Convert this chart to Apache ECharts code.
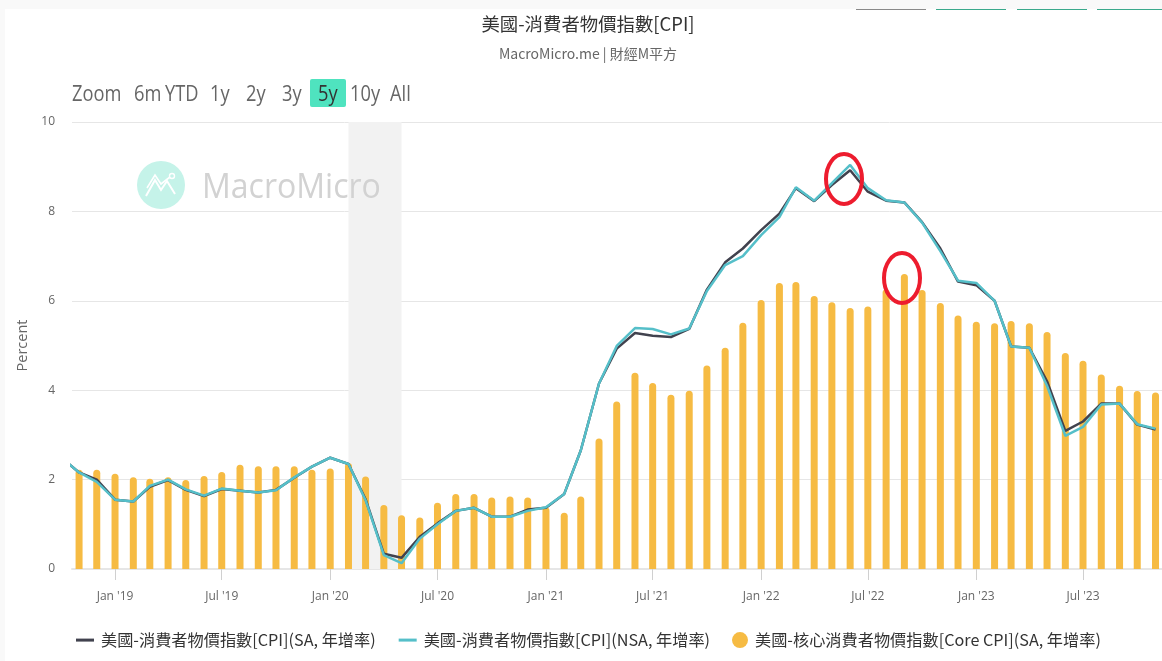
<!DOCTYPE html>
<html><head><meta charset="utf-8">
<style>html,body{margin:0;padding:0;background:#fff}#c{width:1162px;height:661px}</style>
<script src="https://cdn.jsdelivr.net/npm/echarts@6/dist/echarts.min.js"></script>
</head><body><div id="c"></div>
<script>
const startMonth = [2018, 10];
const cpiSA = [2.5,2.16,2.0,1.55,1.51,1.84,1.99,1.77,1.63,1.79,1.75,1.71,1.77,2.04,2.29,2.49,2.35,1.56,0.34,0.25,0.72,1.02,1.3,1.37,1.17,1.17,1.33,1.37,1.68,2.65,4.15,4.93,5.28,5.22,5.19,5.37,6.25,6.86,7.17,7.58,7.95,8.52,8.23,8.59,8.92,8.44,8.24,8.2,7.76,7.17,6.43,6.35,6.0,4.98,4.95,4.2,3.09,3.3,3.7,3.7,3.23,3.12];
const cpiNSA = [2.5,2.16,1.95,1.55,1.51,1.86,2.0,1.78,1.64,1.8,1.75,1.71,1.76,2.05,2.29,2.49,2.35,1.54,0.31,0.13,0.68,1.0,1.3,1.37,1.17,1.17,1.3,1.38,1.68,2.65,4.15,4.99,5.39,5.37,5.25,5.38,6.22,6.8,7.0,7.47,7.87,8.54,8.24,8.63,9.04,8.52,8.25,8.2,7.75,7.11,6.45,6.4,6.0,4.98,4.95,4.1,2.98,3.18,3.68,3.7,3.24,3.14];
const coreCPI = [null,2.22,2.22,2.13,2.05,2.02,2.05,1.99,2.08,2.17,2.33,2.3,2.3,2.3,2.22,2.25,2.37,2.07,1.43,1.2,1.15,1.48,1.68,1.68,1.6,1.62,1.6,1.38,1.26,1.62,2.92,3.75,4.39,4.16,3.9,3.99,4.55,4.95,5.51,6.02,6.4,6.42,6.11,5.97,5.84,5.87,6.26,6.6,6.24,5.95,5.67,5.53,5.5,5.55,5.5,5.3,4.83,4.66,4.35,4.1,3.98,3.95];
const tickDates = ['2019-01-01','2019-07-01','2020-01-01','2020-07-01','2021-01-01','2021-07-01','2022-01-01','2022-07-01','2023-01-01','2023-07-01'];
const tickLabels = ["Jan '19","Jul '19","Jan '20","Jul '20","Jan '21","Jul '21","Jan '22","Jul '22","Jan '23","Jul '23"];
const rangeButtons = [['Zoom',72],['6m',134],['YTD',165],['1y',210],['2y',246],['3y',282],['5y',318],['10y',350],['All',390]];
const recession = ['2020-02-01','2020-05-01'];
const names = ['美國-消費者物價指數[CPI](SA, 年增率)','美國-消費者物價指數[CPI](NSA, 年增率)','美國-核心消費者物價指數[Core CPI](SA, 年增率)'];

const monthDate = i => Date.UTC(startMonth[0], startMonth[1]-1+i, 1);
const zip = a => a.map((v,i)=>[monthDate(i),v]);
const font = '"Noto Sans CJK TC","Open Sans",sans-serif';
const tickTimes = tickDates.map(d=>Date.parse(d+'T00:00:00Z'));
const chart = echarts.init(document.getElementById('c'),null,{renderer:'canvas'});
const legendText = {fontFamily:font,fontSize:16.2,color:'#333',padding:[0,0,0,2]};
chart.setOption({
  animation:false, backgroundColor:'#fff',
  title:{text:'美國-消費者物價指數[CPI]',subtext:'MacroMicro.me | 財經M平方',left:583,textAlign:'center',top:10,itemGap:13,
    textStyle:{fontFamily:font,fontSize:18.4,fontWeight:'normal',color:'#333'},
    subtextStyle:{fontFamily:font,fontSize:14,color:'#666'}},
  legend:[
    {data:[{name:names[0]},{name:names[1]}],left:71,top:627,itemWidth:18,itemHeight:3,itemGap:23,icon:'rect',textStyle:legendText},
    {data:[{name:names[2]}],left:727,top:627,itemWidth:16,itemHeight:16,icon:'circle',textStyle:legendText}
  ],
  grid:{left:72,right:0,top:122,bottom:92},
  xAxis:{type:'value',min:Date.UTC(2018,9,20),max:Date.UTC(2023,10,12),scale:true,
    axisLine:{lineStyle:{color:'#e6e6e6',width:2}},
    axisTick:{show:true,length:11,customValues:tickTimes,lineStyle:{color:'#d0d0d0'}},
    axisLabel:{customValues:tickTimes,margin:22,fontFamily:'"Open Sans",sans-serif',fontSize:12,color:'#666',
      formatter:v=>tickLabels[tickTimes.indexOf(v)]||''},
    splitLine:{show:false}},
  yAxis:{type:'value',min:0,max:10,interval:2,name:'Percent',nameLocation:'middle',nameGap:40,nameRotate:90,
    nameTextStyle:{fontFamily:'"Open Sans",sans-serif',fontSize:14.5,color:'#666'},
    axisLine:{show:false},axisTick:{show:false},
    axisLabel:{margin:17,padding:[3,0,0,0],fontFamily:'"Open Sans",sans-serif',fontSize:12,color:'#666'},
    splitLine:{lineStyle:{color:'#e6e6e6',width:1}}},
  series:[
    {name:names[2],type:'bar',data:zip(coreCPI),barWidth:7,z:2,
      itemStyle:{color:'#f6bb43',borderRadius:[3.5,3.5,0,0]},
      markArea:{silent:true,itemStyle:{color:'#f2f2f2'},z:1,
        data:[[{xAxis:Date.parse(recession[0]+'T00:00:00Z')},{xAxis:Date.parse(recession[1]+'T00:00:00Z')}]]}},
    {name:names[0],type:'line',data:zip(cpiSA),symbol:'none',z:3,lineStyle:{color:'#41424e',width:2.5},itemStyle:{color:'#41424e'}},
    {name:names[1],type:'line',data:zip(cpiNSA),symbol:'none',z:4,lineStyle:{color:'#55bfc9',width:2.5},itemStyle:{color:'#55bfc9'}}
  ],
  graphic:[
    {type:'rect',shape:{x:0,y:0,width:1162,height:9},style:{fill:'#f9f9f9'},silent:true,z:0},
    {type:'rect',shape:{x:0,y:0,width:5,height:661},style:{fill:'#f9f9f9'},silent:true,z:0},
    ...[[856,926,'#8a8a8a'],[936,1006,'#3aa98c'],[1017,1087,'#3aa98c'],[1097,1162,'#3aa98c']].map(a=>(
      {type:'rect',shape:{x:a[0],y:9,width:a[1]-a[0],height:1},style:{fill:a[2]},silent:true,z:5})),
    {type:'circle',shape:{cx:161,cy:185,r:24},style:{fill:'#c5f3e9'},silent:true,z:5},
    {type:'polyline',shape:{points:[[146,196],[155,180],[161,190],[167,181],[175,194]]},style:{stroke:'#fff',fill:null,lineWidth:2},silent:true,z:6},
    {type:'polyline',shape:{points:[[147,188],[155,175],[161,184],[170,177]]},style:{stroke:'#fff',fill:null,lineWidth:1.6},silent:true,z:6},
    {type:'circle',shape:{cx:172,cy:176,r:2.5},style:{stroke:'#fff',fill:null,lineWidth:1.4},silent:true,z:6},
    {type:'text',x:202,y:188,scaleX:0.915,style:{text:'MacroMicro',fontFamily:'"Open Sans",sans-serif',fontSize:35,fill:'#d2d2d2',verticalAlign:'middle'},silent:true,z:5},
    {type:'rect',shape:{x:310,y:79,width:36,height:28,r:2},style:{fill:'#4fe3bf'},silent:true,z:5},
    ...rangeButtons.map(b=>({type:'text',x:b[1],y:95,scaleX:0.87,style:{text:b[0],fontFamily:'"Open Sans",sans-serif',fontSize:21,fill:b[0]==='5y'?'#333':'#666',verticalAlign:'middle'},silent:true,z:6})),
    {type:'ellipse',shape:{cx:844,cy:179,rx:18,ry:25},style:{stroke:'#ed1c2e',fill:null,lineWidth:4},silent:true,z:10},
    {type:'ellipse',shape:{cx:902,cy:278,rx:18,ry:25},style:{stroke:'#ed1c2e',fill:null,lineWidth:4},silent:true,z:10}
  ]
});
</script></body></html>
